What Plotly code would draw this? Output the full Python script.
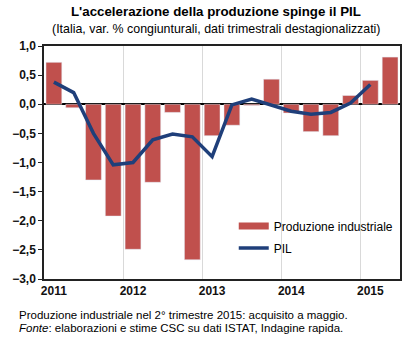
import plotly.graph_objects as go

quarters = ["2011T1", "2011T2", "2011T3", "2011T4",
            "2012T1", "2012T2", "2012T3", "2012T4",
            "2013T1", "2013T2", "2013T3", "2013T4",
            "2014T1", "2014T2", "2014T3", "2014T4",
            "2015T1", "2015T2"]
produzione = [0.72, -0.06, -1.30, -1.92, -2.49, -1.34, -0.14, -2.67,
              -0.54, -0.36, -0.02, 0.43, -0.15, -0.47, -0.54, 0.15,
              0.41, 0.81]
pil = [0.38, 0.20, -0.50, -1.04, -1.00, -0.61, -0.51, -0.56,
       -0.90, -0.01, 0.09, -0.02, -0.12, -0.17, -0.14, 0.02,
       0.34, None]
year_labels = ["2011", "2012", "2013", "2014", "2015"]
yticks = [1.0, 0.5, 0.0, -0.5, -1.0, -1.5, -2.0, -2.5, -3.0]

RED = "#C0504D"
BLUE = "#1F3F7A"
FONT = "Liberation Sans"

x = list(range(len(quarters)))
year_pos = [x[quarters.index(y + "T1")] for y in year_labels]
year_bounds = [p - 0.5 for p in year_pos[1:]]

fig = go.Figure()
fig.add_trace(go.Bar(x=x, y=produzione, marker_color=RED, width=0.8,
                     showlegend=False, hoverinfo="skip"))
fig.add_trace(go.Scatter(x=x, y=pil, mode="lines",
                         line=dict(color=BLUE, width=3.5),
                         showlegend=False))
# legend entries
fig.add_trace(go.Scatter(x=[None], y=[None], mode="lines",
                         line=dict(color=RED, width=7),
                         name="Produzione industriale", legendgroup="a"))
fig.add_trace(go.Scatter(x=[None], y=[None], mode="lines",
                         line=dict(color=BLUE, width=3.5),
                         name="PIL", legendgroup="b"))

fig.update_layout(
    width=416, height=340,
    margin=dict(l=40, r=16, t=46, b=61),
    paper_bgcolor="white", plot_bgcolor="white",
    font=dict(family=FONT, size=12, color="#000"),
    separators=",.",
    bargap=0.2,
    legend=dict(x=0.533, y=0.29, xanchor="left", yanchor="top",
                font=dict(size=12, family=FONT),
                bgcolor="rgba(0,0,0,0)", tracegroupgap=3,
                traceorder="grouped", itemwidth=30),
    xaxis=dict(range=[-0.5, len(quarters) - 0.5],
               tickmode="array", tickvals=year_pos, ticktext=year_labels,
               showgrid=False, ticks="", zeroline=False,
               showline=True, linecolor="#222", linewidth=1.5, mirror=True,
               tickfont=dict(size=12, family=FONT, weight="bold", color="#111"),
               minor=dict(tickmode="array", tickvals=year_bounds,
                          showgrid=True, gridcolor="#d9d9d9", gridwidth=1,
                          ticks="")),
    yaxis=dict(range=[-3, 1], tickmode="array", tickvals=yticks,
               tickformat=".1f", showgrid=False,
               zeroline=True, zerolinecolor="#000", zerolinewidth=1.5,
               showline=True, linecolor="#222", linewidth=1.5, mirror=True,
               ticks="outside", ticklen=4, tickcolor="#222",
               tickfont=dict(size=12, family=FONT, weight="bold", color="#111")),
    annotations=[
        dict(text="<b>L'accelerazione della produzione spinge il PIL</b>",
             xref="paper", yref="paper", x=0.483, y=1.146,
             xanchor="center", yanchor="middle", showarrow=False,
             font=dict(size=13.3, family=FONT)),
        dict(text="(Italia, var. % congiunturali, dati trimestrali destagionalizzati)",
             xref="paper", yref="paper", x=0.485, y=1.073,
             xanchor="center", yanchor="middle", showarrow=False,
             font=dict(size=12.4, family=FONT)),
        dict(text="Produzione industriale nel 2° trimestre 2015: acquisito a maggio.",
             xref="paper", yref="paper", x=-0.075, y=-0.1524,
             xanchor="left", yanchor="middle", showarrow=False,
             font=dict(size=11.5, family=FONT)),
        dict(text="<i>Fonte</i>: elaborazioni e stime CSC su dati ISTAT, Indagine rapida.",
             xref="paper", yref="paper", x=-0.075, y=-0.2103,
             xanchor="left", yanchor="middle", showarrow=False,
             font=dict(size=11.5, family=FONT)),
    ],
)

fig.write_html("out.html")
